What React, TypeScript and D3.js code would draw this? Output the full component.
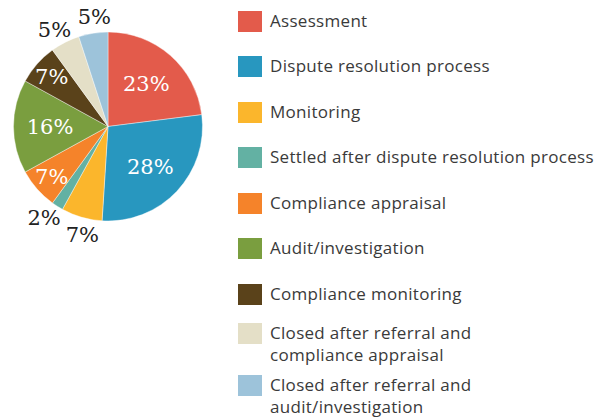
import React from "react";
import * as d3 from "d3";

const categories = [
  "Assessment",
  "Dispute resolution process",
  "Monitoring",
  "Settled after dispute resolution process",
  "Compliance appraisal",
  "Audit/investigation",
  "Compliance monitoring",
  "Closed after referral and compliance appraisal",
  "Closed after referral and audit/investigation",
];
const values = [23, 28, 7, 2, 7, 16, 7, 5, 5];
const legendLines = [
  ["Assessment"],
  ["Dispute resolution process"],
  ["Monitoring"],
  ["Settled after dispute resolution process"],
  ["Compliance appraisal"],
  ["Audit/investigation"],
  ["Compliance monitoring"],
  ["Closed after referral and", "compliance appraisal"],
  ["Closed after referral and", "audit/investigation"],
];
const colors = [
  "#e35b4b",
  "#2897bf",
  "#fbb62c",
  "#63b1a3",
  "#f5832a",
  "#7a9e3f",
  "#5a421a",
  "#e4dfc7",
  "#9dc3da",
];

const W = 599;
const H = 418;

const App = () => {
  const cx = 108;
  const cy = 126.5;
  const radius = 94.5;

  const pie = d3
    .pie<number>()
    .value((d) => d)
    .sort(null);
  const arcs = pie(values);
  const arc = d3.arc<d3.PieArcDatum<number>>().innerRadius(0).outerRadius(radius);

  // label positions: dark slices get white labels inside, light/tiny ones go outside
  const labels = arcs.map((a, i) => {
    const light = d3.lab(colors[i]).l > 70;
    const outside = light || a.value < 3;
    const r = outside ? 110 : a.value >= 10 ? 58 : 75;
    const mid = (a.startAngle + a.endAngle) / 2;
    return {
      x: Math.sin(mid) * r,
      y: -Math.cos(mid) * r,
      outside,
      fill: outside ? "#222" : "#fff",
    };
  });

  // push apart outside labels that are too close
  const minDist = 42;
  for (let iter = 0; iter < 10; iter++) {
    for (let i = 0; i < labels.length; i++) {
      for (let j = i + 1; j < labels.length; j++) {
        const a = labels[i];
        const b = labels[j];
        if (!a.outside || !b.outside) continue;
        const dx = b.x - a.x;
        const dy = b.y - a.y;
        const d = Math.hypot(dx, dy);
        if (d < minDist && d > 0) {
          const push = (minDist - d) / 2;
          a.x -= (dx / d) * push;
          a.y -= (dy / d) * push;
          b.x += (dx / d) * push;
          b.y += (dy / d) * push;
        }
      }
    }
  }

  const rowTops = [11, 56, 102, 147, 193, 238, 284, 323, 375];

  return (
    <svg
      width={W}
      height={H}
      style={{ position: "absolute", left: 0, top: 0, background: "#fff" }}
    >
      <g transform={`translate(${cx},${cy})`}>
        {arcs.map((a, i) => (
          <path
            key={categories[i]}
            d={arc(a) || ""}
            fill={colors[i]}
            stroke="#fff"
            strokeWidth={0.4}
          />
        ))}
        {labels.map((p, i) => (
          <text
            key={"l" + i}
            x={p.x}
            y={p.y}
            dy="0.36em"
            textAnchor="middle"
            fill={p.fill}
            fontFamily="DejaVu Serif"
            fontSize={21}
          >
            {values[i]}%
          </text>
        ))}
      </g>
      <g>
        {categories.map((c, i) => (
          <g key={c} transform={`translate(238,${rowTops[i]})`}>
            <rect width={24} height={21} fill={colors[i]} />
            {legendLines[i].map((line, j) => (
              <text
                key={j}
                x={32}
                y={16 + j * 22}
                fill="#3a3a3a"
                fontFamily="Open Sans"
                fontSize={17}
                letterSpacing={0.3}
              >
                {line}
              </text>
            ))}
          </g>
        ))}
      </g>
    </svg>
  );
};

export default App;
